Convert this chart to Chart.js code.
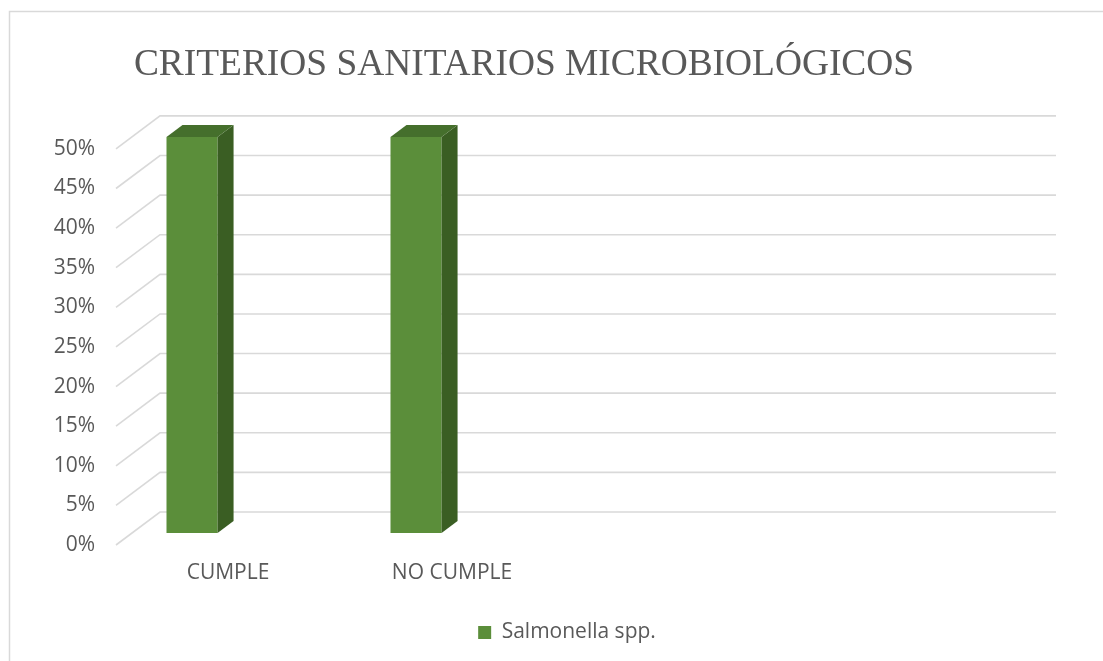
<!DOCTYPE html>
<html>
<head>
<meta charset="utf-8">
<script src="https://cdn.jsdelivr.net/npm/chart.js@4.4.1/dist/chart.umd.min.js"></script>
<style>
  html, body { margin: 0; padding: 0; background: #ffffff; }
  #wrap { width: 1103px; height: 661px; position: relative; }
</style>
</head>
<body>
<div id="wrap"><canvas id="chart" width="1103" height="661"></canvas></div>
<script>
// Chart content
const titleText = 'CRITERIOS SANITARIOS MICROBIOLÓGICOS';
const categories = ['CUMPLE', 'NO CUMPLE', '', ''];
const seriesName = 'Salmonella spp.';
const salmonella = [0.5, 0.5, null, null];
const yMin = 0;
const yMax = 0.5;
const yStep = 0.05;

// Styling of the pseudo-3D look
const TEXT = '#595959';
const GRID = '#D9D9D9';
const FACE = '#5B8E3A';
const SIDE = '#3A5E23';
const TOP = '#456F2C';
const FRONT = { dx: -16, dy: 12 };   // front edge of the floor/walls
const BACK = { dx: 28, dy: -21 };    // back wall plane
const DEPTH = { dx: 16, dy: -12 };   // depth of each column
const CLUSTER_SHIFT = 0.232;         // column sits in the first slot of its category
const LEGEND_SHIFT = -13;            // legend sits under the front edge of the floor

const pct = v => Math.round(v * 100) + '%';

const pseudo3d = {
  id: 'pseudo3d',
  afterLayout(chart) {
    chart.legend.left += LEGEND_SHIFT;
    chart.legend.right += LEGEND_SHIFT;
  },
  beforeDraw(chart) {
    const ctx = chart.ctx;
    ctx.save();
    ctx.fillStyle = '#ffffff';
    ctx.fillRect(0, 0, chart.width, chart.height);
    ctx.strokeStyle = GRID;
    ctx.lineWidth = 1.5;
    ctx.beginPath();
    ctx.moveTo(9.5, chart.height);
    ctx.lineTo(9.5, 11.5);
    ctx.lineTo(chart.width, 11.5);
    ctx.stroke();
    ctx.restore();
  },
  beforeDatasetsDraw(chart) {
    const { ctx, chartArea: a, scales: { x, y } } = chart;
    ctx.save();
    ctx.strokeStyle = GRID;
    ctx.lineWidth = 1.6;
    y.ticks.forEach(t => {
      const py = y.getPixelForValue(t.value);
      ctx.beginPath();
      ctx.moveTo(a.left + FRONT.dx, py + FRONT.dy);
      ctx.lineTo(a.left + BACK.dx, py + BACK.dy);
      ctx.lineTo(a.right + BACK.dx, py + BACK.dy);
      ctx.stroke();
    });
    ctx.restore();
    const shift = x.width / categories.length * CLUSTER_SHIFT;
    ctx.save();
    ctx.translate(-shift, 0);
  },
  afterDatasetsDraw(chart) {
    const ctx = chart.ctx;
    chart.getDatasetMeta(0).data.forEach((bar, i) => {
      if (salmonella[i] == null) return;
      const { x, y, base, width } = bar.getProps(['x', 'y', 'base', 'width'], true);
      const l = x - width / 2, r = x + width / 2;
      ctx.fillStyle = SIDE;
      ctx.beginPath();
      ctx.moveTo(r, y);
      ctx.lineTo(r + DEPTH.dx, y + DEPTH.dy);
      ctx.lineTo(r + DEPTH.dx, base + DEPTH.dy);
      ctx.lineTo(r, base);
      ctx.closePath();
      ctx.fill();
      ctx.fillStyle = TOP;
      ctx.beginPath();
      ctx.moveTo(l, y);
      ctx.lineTo(l + DEPTH.dx, y + DEPTH.dy);
      ctx.lineTo(r + DEPTH.dx, y + DEPTH.dy);
      ctx.lineTo(r, y);
      ctx.closePath();
      ctx.fill();
    });
    ctx.restore();
  }
};

new Chart(document.getElementById('chart'), {
  type: 'bar',
  data: {
    labels: categories,
    datasets: [{
      label: seriesName,
      data: salmonella,
      backgroundColor: FACE,
      borderWidth: 0,
      categoryPercentage: 1,
      barPercentage: 0.228
    }]
  },
  options: {
    responsive: false,
    animation: false,
    devicePixelRatio: 1,
    layout: { padding: { left: 20, right: 75, top: 20, bottom: 8 } },
    plugins: {
      title: {
        display: true,
        text: titleText,
        color: TEXT,
        font: { family: '"Liberation Serif", "Times New Roman", serif', size: 37.4, weight: 'normal' },
        padding: { top: 23, bottom: 49 }
      },
      legend: {
        position: 'bottom',
        fullSize: false,
        labels: {
          color: TEXT,
          boxWidth: 13,
          boxHeight: 13,
          padding: 10,
          font: { family: '"Open Sans", sans-serif', size: 21 }
        }
      },
      tooltip: { enabled: false }
    },
    scales: {
      x: {
        grid: { display: false, drawTicks: false },
        border: { display: false },
        ticks: {
          color: TEXT,
          font: { family: '"Open Sans", sans-serif', size: 21 },
          labelOffset: FRONT.dx,
          padding: 27,
          maxRotation: 0,
          autoSkip: false
        },
        afterFit(scale) { scale.height = 79; }
      },
      y: {
        min: yMin,
        max: yMax,
        grid: { display: false, drawTicks: false },
        border: { display: false },
        ticks: {
          stepSize: yStep,
          color: TEXT,
          font: { family: '"Open Sans", sans-serif', size: 21 },
          labelOffset: FRONT.dy,
          padding: 37,
          callback: v => pct(v)
        },
        afterFit(scale) { scale.width = 112; }
      }
    }
  },
  plugins: [pseudo3d]
});
</script>
</body>
</html>
